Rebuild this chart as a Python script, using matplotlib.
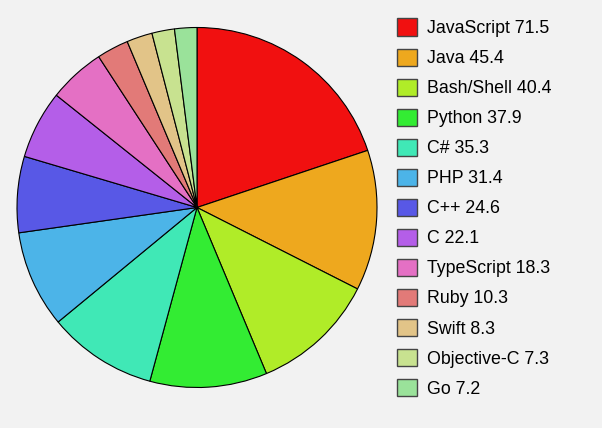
import matplotlib.pyplot as plt
from matplotlib.patches import Patch

languages = ['JavaScript', 'Java', 'Bash/Shell', 'Python', 'C#', 'PHP', 'C++',
             'C', 'TypeScript', 'Ruby', 'Swift', 'Objective-C', 'Go']
values = [71.5, 45.4, 40.4, 37.9, 35.3, 31.4, 24.6, 22.1, 18.3, 10.3, 8.3, 7.3, 7.2]
colors = ['#f11010', '#eea81e', '#b0ec28', '#33ec33', '#40e8b6', '#4cb4e8',
          '#5858e6', '#b45ee8', '#e470c4', '#e27a78', '#e2c488', '#c8e290', '#9ae29a']

plt.rcParams['font.family'] = ['Liberation Sans', 'DejaVu Sans']

fig = plt.figure(figsize=(6.02, 4.28), dpi=100)
fig.patch.set_facecolor('#f2f2f2')

ax = fig.add_axes([17 / 602, 40.5 / 428, 360 / 602, 360 / 428])
ax.pie(values, colors=colors, startangle=90, counterclock=False, radius=1,
       wedgeprops={'edgecolor': 'black', 'linewidth': 0.8})
ax.set_xlim(-1, 1)
ax.set_ylim(-1, 1)
ax.set_aspect('equal')
ax.axis('off')

handles = [Patch(facecolor=c, edgecolor='#444444', linewidth=1) for c in colors]
labels = ['%s %s' % (l, v) for l, v in zip(languages, values)]
leg = fig.legend(handles, labels, loc='upper left', bbox_to_anchor=(397 / 602, 1 - 18.5 / 428),
                 frameon=False, fontsize=12.8, handlelength=1.1, handleheight=1.1,
                 handletextpad=0.6, labelspacing=0.645, borderaxespad=0, borderpad=0)

fig.savefig('out.png', dpi=100, facecolor=fig.get_facecolor())
